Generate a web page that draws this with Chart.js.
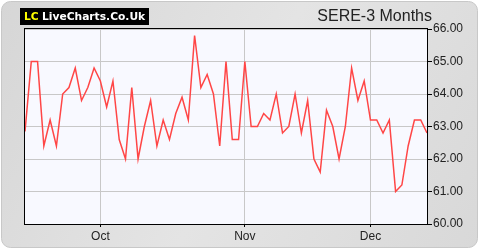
<!DOCTYPE html>
<html>
<head>
<meta charset="utf-8">
<script src="https://cdn.jsdelivr.net/npm/chart.js@4"></script>
<style>
  html, body { margin: 0; padding: 0; background: #fff; }
  #wrap { width: 480px; height: 250px; }
</style>
</head>
<body>
<div id="wrap"><canvas id="chart" width="480" height="250"></canvas></div>
<script>
  // SERE closing prices, one per trading day (last 3 months)
  const prices = [
    62.85, 65.0, 65.0, 62.4, 63.2, 62.4, 64.0, 64.2, 64.8, 63.8,
    64.2, 64.8, 64.4, 63.6, 64.4, 62.6, 62.0, 64.2, 62.0, 63.0,
    63.8, 62.4, 63.2, 62.6, 63.4, 63.9, 63.2, 65.8, 64.2, 64.6,
    64.0, 62.4, 65.0, 62.6, 62.6, 65.0, 63.0, 63.0, 63.4, 63.2,
    64.0, 62.8, 63.0, 64.0, 62.8, 63.8, 62.0, 61.6, 63.5, 63.0,
    62.0, 63.0, 64.8, 63.8, 64.4, 63.2, 63.2, 62.8, 63.2, 61.0,
    61.2, 62.4, 63.2, 63.2, 62.8
  ];
  const days = prices.map((p, i) => 'day ' + (i + 1));
  const monthStarts = [12, 35, 55];
  const monthLabels = ['Oct', 'Nov', 'Dec'];
  const yMin = 60, yMax = 66;

  // panel, logo and title around the plot
  const frame = {
    id: 'frame',
    beforeDraw(chart) {
      const c = chart.ctx, a = chart.chartArea;
      c.save();
      c.fillStyle = '#fff';
      c.fillRect(0, 0, 480, 250);
      const g = c.createLinearGradient(0, 0, 480, 250);
      g.addColorStop(0, '#d6d6d6');
      g.addColorStop(0.5, '#e4e4e4');
      g.addColorStop(1, '#d8d8d8');
      c.beginPath();
      c.roundRect(1.5, 1.5, 476, 246, 9);
      c.fillStyle = g;
      c.fill();
      c.strokeStyle = '#c8c8c8';
      c.lineWidth = 1;
      c.stroke();

      c.fillStyle = '#f8f9ff';
      c.fillRect(a.left, a.top, a.right - a.left, a.bottom - a.top);

      // logo, text squeezed to fit the black box
      c.fillStyle = '#000';
      c.fillRect(20, 8, 129, 17);
      c.font = 'bold 12px "DejaVu Sans"';
      const w = c.measureText('LiveCharts.Co.Uk').width;
      const size = Math.min(12, 12 * 103 / w);
      c.font = 'bold ' + size.toFixed(1) + 'px "DejaVu Sans"';
      c.textBaseline = 'middle';
      c.fillStyle = '#ffff00';
      c.fillText('LC', 24, 17);
      c.fillStyle = '#fff';
      c.fillText('LiveCharts.Co.Uk', 42, 17);

      // title
      c.font = '16px "Liberation Sans"';
      c.fillStyle = '#222';
      c.textAlign = 'right';
      c.fillText('SERE-3 Months', 432, 17);
      c.restore();
    },
    afterDraw(chart) {
      const c = chart.ctx, a = chart.chartArea;
      c.save();
      c.strokeStyle = '#000';
      c.lineWidth = 1;
      c.strokeRect(Math.round(a.left) - 0.5, Math.round(a.top) - 0.5,
        Math.round(a.right - a.left) + 1, Math.round(a.bottom - a.top) + 1);
      c.restore();
    }
  };

  new Chart(document.getElementById('chart'), {
    type: 'line',
    data: {
      labels: days,
      datasets: [{
        data: prices,
        borderColor: '#ff4646',
        borderWidth: 1.5,
        pointRadius: 0,
        tension: 0,
        fill: false
      }]
    },
    options: {
      responsive: false,
      animation: false,
      layout: { padding: { left: 25, top: 29, right: 0, bottom: 0 } },
      plugins: { legend: { display: false }, tooltip: { enabled: false } },
      scales: {
        x: {
          offset: false,
          afterBuildTicks: s => { s.ticks = monthStarts.map(v => ({ value: v })); },
          afterFit: s => { s.height = 26; },
          ticks: {
            autoSkip: false,
            maxRotation: 0,
            padding: 2,
            color: '#222',
            font: { family: 'Liberation Sans', size: 12 },
            callback: v => monthLabels[monthStarts.indexOf(v)]
          },
          grid: { color: '#c8c8c8', tickColor: '#000', tickLength: 3 },
          border: { color: '#000' }
        },
        y: {
          position: 'right',
          min: yMin,
          max: yMax,
          afterFit: s => { s.width = 53; },
          ticks: {
            stepSize: 1,
            padding: 1,
            color: '#222',
            font: { family: 'Liberation Sans', size: 12 },
            callback: v => v.toFixed(2)
          },
          grid: { color: '#c8c8c8', tickColor: '#000', tickLength: 5 },
          border: { color: '#000' }
        }
      }
    },
    plugins: [frame]
  });
</script>
</body>
</html>
